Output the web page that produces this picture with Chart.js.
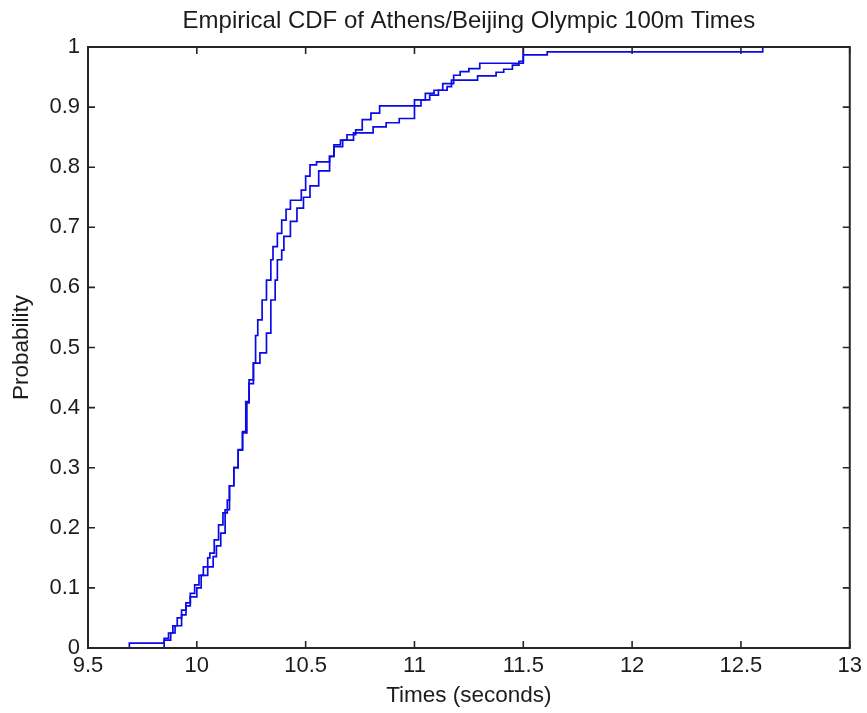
<!DOCTYPE html>
<html>
<head>
<meta charset="utf-8">
<script src="https://cdn.jsdelivr.net/npm/chart.js@4/dist/chart.umd.min.js"></script>
<style>
  html, body { margin: 0; padding: 0; background: #fff; }
  #wrap { width: 867px; height: 713px; }
</style>
</head>
<body>
<div id="wrap"><canvas id="cdfChart" width="867" height="713"></canvas></div>
<script>
// tick marks on the axes
const xTickValues = [9.5, 10, 10.5, 11, 11.5, 12, 12.5, 13];
const yTickValues = [0, 0.1, 0.2, 0.3, 0.4, 0.5, 0.6, 0.7, 0.8, 0.9, 1];

// curve starting at 9.69
const beijingTimes = [9.69, 9.69, 9.85, 9.87, 9.89, 9.91, 9.93, 9.95, 9.97, 9.99, 10.01, 10.03, 10.05, 10.06, 10.08, 10.10, 10.12, 10.14, 10.15, 10.17, 10.19, 10.21, 10.23, 10.24, 10.26, 10.27, 10.28, 10.30, 10.32, 10.34, 10.35, 10.37, 10.39, 10.41, 10.43, 10.48, 10.50, 10.52, 10.55, 10.61, 10.63, 10.66, 10.69, 10.73, 10.76, 10.80, 10.84, 11.00, 11.05, 11.09, 11.13, 11.18, 11.21, 11.25, 11.30, 11.50, 11.61, 12.60];
const beijingProb  = [0, 0.008, 0.016, 0.025, 0.037, 0.050, 0.063, 0.075, 0.091, 0.105, 0.121, 0.135, 0.150, 0.158, 0.180, 0.205, 0.225, 0.246, 0.270, 0.300, 0.329, 0.358, 0.408, 0.446, 0.474, 0.520, 0.546, 0.579, 0.612, 0.646, 0.668, 0.690, 0.712, 0.730, 0.745, 0.762, 0.785, 0.804, 0.809, 0.818, 0.837, 0.845, 0.854, 0.862, 0.879, 0.890, 0.902, 0.912, 0.923, 0.928, 0.939, 0.953, 0.959, 0.964, 0.973, 0.987, 0.992, 1];

// curve starting at 9.85
const athensTimes = [9.85, 9.85, 9.88, 9.90, 9.93, 9.95, 9.97, 10.00, 10.02, 10.05, 10.075, 10.09, 10.11, 10.13, 10.15, 10.17, 10.19, 10.21, 10.225, 10.24, 10.26, 10.29, 10.32, 10.34, 10.36, 10.37, 10.39, 10.40, 10.43, 10.46, 10.49, 10.52, 10.56, 10.61, 10.63, 10.67, 10.72, 10.81, 10.87, 10.93, 11.00, 11.03, 11.07, 11.11, 11.15, 11.17, 11.29, 11.375, 11.41, 11.45, 11.48, 11.50];
const athensProb  = [0, 0.013, 0.025, 0.037, 0.055, 0.070, 0.085, 0.100, 0.121, 0.135, 0.152, 0.170, 0.191, 0.230, 0.270, 0.300, 0.330, 0.360, 0.410, 0.440, 0.474, 0.491, 0.524, 0.579, 0.612, 0.646, 0.662, 0.685, 0.710, 0.732, 0.750, 0.769, 0.794, 0.818, 0.834, 0.845, 0.857, 0.867, 0.874, 0.881, 0.902, 0.912, 0.920, 0.928, 0.934, 0.945, 0.952, 0.958, 0.963, 0.970, 0.976, 1];

const FONT = '"Liberation Sans", Arial, sans-serif';
const TEXT = '#1c1c1c';
const LINE = '#0a0ae6';

const toPoints = (xs, ys) => xs.map((x, i) => ({ x: x, y: ys[i] }));

// MATLAB style box with inward ticks on all four sides
const boxPlugin = {
    id: 'matlabBox',
    afterDatasetsDraw(chart) {
        const { ctx, chartArea: a, scales: { x, y } } = chart;
        const len = 7;
        ctx.save();
        ctx.strokeStyle = '#262626';
        ctx.lineWidth = 1.6;
        ctx.beginPath();
        xTickValues.forEach(v => {
            const px = x.getPixelForValue(v);
            ctx.moveTo(px, a.bottom); ctx.lineTo(px, a.bottom - len);
            ctx.moveTo(px, a.top); ctx.lineTo(px, a.top + len);
        });
        yTickValues.forEach(v => {
            const py = y.getPixelForValue(v);
            ctx.moveTo(a.left, py); ctx.lineTo(a.left + len, py);
            ctx.moveTo(a.right, py); ctx.lineTo(a.right - len, py);
        });
        ctx.stroke();
        ctx.lineWidth = 2;
        ctx.strokeRect(a.left, a.top, a.right - a.left, a.bottom - a.top);
        ctx.restore();
    }
};

new Chart(document.getElementById('cdfChart'), {
    type: 'line',
    data: {
        datasets: [
            {
                label: 'Beijing',
                data: toPoints(beijingTimes, beijingProb),
                borderColor: LINE,
                borderWidth: 1.7,
                stepped: true,
                pointRadius: 0,
                fill: false
            },
            {
                label: 'Athens',
                data: toPoints(athensTimes, athensProb),
                borderColor: LINE,
                borderWidth: 1.7,
                stepped: true,
                pointRadius: 0,
                fill: false
            }
        ]
    },
    options: {
        responsive: false,
        animation: false,
        devicePixelRatio: 1,
        layout: { padding: { left: 0, right: 15, top: 0, bottom: 0 } },
        plugins: {
            legend: { display: false },
            tooltip: { enabled: false },
            title: {
                display: true,
                fullSize: false, // centre over the plot box like MATLAB
                text: 'Empirical CDF of Athens/Beijing Olympic 100m Times',
                color: TEXT,
                font: { family: FONT, size: 24, weight: 'normal', lineHeight: 1.2 },
                padding: { top: 6.6, bottom: 11.6 }
            }
        },
        scales: {
            x: {
                type: 'linear',
                min: 9.5,
                max: 13,
                afterBuildTicks: s => { s.ticks = xTickValues.map(v => ({ value: v })); },
                afterFit: s => { s.height = 65; },
                grid: { display: false, drawTicks: false },
                border: { display: false },
                ticks: {
                    color: TEXT,
                    padding: 5,
                    maxRotation: 0,
                    font: { family: FONT, size: 22 },
                    callback: v => String(v)
                },
                title: {
                    display: true,
                    text: 'Times (seconds)',
                    color: TEXT,
                    font: { family: FONT, size: 22.5, lineHeight: 1.2 },
                    padding: { top: 0, bottom: 4 }
                }
            },
            y: {
                type: 'linear',
                min: 0,
                max: 1,
                afterBuildTicks: s => { s.ticks = yTickValues.map(v => ({ value: v })); },
                afterFit: s => { s.width = 88; },
                grid: { display: false, drawTicks: false },
                border: { display: false },
                ticks: {
                    color: TEXT,
                    padding: 8,
                    font: { family: FONT, size: 22 },
                    callback: v => String(v)
                },
                title: {
                    display: true,
                    text: 'Probability',
                    color: TEXT,
                    font: { family: FONT, size: 22.5, lineHeight: 1.2 },
                    padding: { top: 8, bottom: 0 }
                }
            }
        }
    },
    plugins: [boxPlugin]
});
</script>
</body>
</html>
